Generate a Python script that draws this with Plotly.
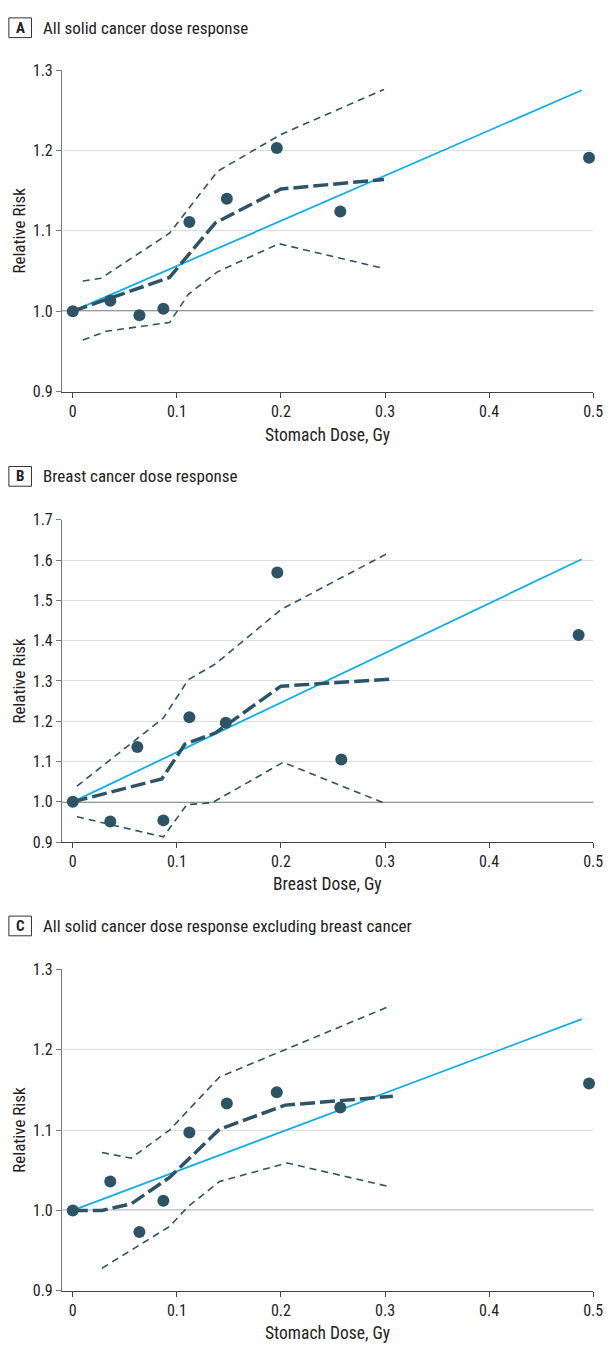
import plotly.graph_objects as go

# ---------------- data ----------------
# Panel A: all solid cancer (stomach dose)
a_pts_x = [0.0, 0.036, 0.064, 0.087, 0.112, 0.148, 0.196, 0.257, 0.496]
a_pts_y = [1.0, 1.013, 0.995, 1.003, 1.111, 1.140, 1.203, 1.124, 1.191]
a_lin_x = [0.0, 0.489]
a_lin_y = [1.0, 1.275]
a_fit_x = [0.0, 0.0929, 0.137, 0.2, 0.299]
a_fit_y = [1.0, 1.042, 1.110, 1.152, 1.164]
a_up_x = [0.0096, 0.027, 0.0929, 0.139, 0.2, 0.299]
a_up_y = [1.0376, 1.041, 1.097, 1.174, 1.220, 1.276]
a_lo_x = [0.0096, 0.032, 0.093, 0.111, 0.139, 0.198, 0.296]
a_lo_y = [0.964, 0.975, 0.986, 1.021, 1.049, 1.084, 1.054]

# Panel B: breast cancer (breast dose)
b_pts_x = [0.0, 0.036, 0.062, 0.087, 0.112, 0.147, 0.1965, 0.258, 0.486]
b_pts_y = [1.0, 0.951, 1.136, 0.954, 1.210, 1.196, 1.569, 1.105, 1.414]
b_lin_x = [0.0, 0.489]
b_lin_y = [1.0, 1.602]
b_fit_x = [0.0, 0.0855, 0.1077, 0.137, 0.2, 0.304]
b_fit_y = [1.0, 1.057, 1.143, 1.171, 1.287, 1.304]
b_up_x = [0.004, 0.087, 0.111, 0.137, 0.2, 0.302]
b_up_y = [1.039, 1.208, 1.303, 1.342, 1.477, 1.616]
b_lo_x = [0.004, 0.087, 0.1095, 0.134, 0.202, 0.302]
b_lo_y = [0.963, 0.913, 0.993, 0.998, 1.098, 0.994]

# Panel C: all solid cancer excluding breast (stomach dose)
c_pts_x = [0.0, 0.036, 0.064, 0.087, 0.112, 0.148, 0.196, 0.257, 0.496]
c_pts_y = [1.0, 1.036, 0.973, 1.012, 1.097, 1.133, 1.147, 1.128, 1.158]
c_lin_x = [0.0, 0.489]
c_lin_y = [1.0, 1.238]
c_fit_x = [0.0, 0.028, 0.056, 0.093, 0.141, 0.204, 0.3075]
c_fit_y = [1.0, 1.0, 1.008, 1.041, 1.101, 1.131, 1.142]
c_up_x = [0.028, 0.056, 0.093, 0.141, 0.204, 0.306]
c_up_y = [1.072, 1.065, 1.100, 1.166, 1.200, 1.255]
c_lo_x = [0.028, 0.093, 0.111, 0.141, 0.206, 0.306]
c_lo_y = [0.928, 0.980, 1.005, 1.036, 1.059, 1.029]

x_ticks = [0, 0.1, 0.2, 0.3, 0.4, 0.5]
x_tick_text = ["0", "0.1", "0.2", "0.3", "0.4", "0.5"]
ya_ticks = [0.9, 1.0, 1.1, 1.2, 1.3]
yb_ticks = [0.9, 1.0, 1.1, 1.2, 1.3, 1.4, 1.5, 1.6, 1.7]
yc_ticks = [0.9, 1.0, 1.1, 1.2, 1.3]

panel_letters = ["A", "B", "C"]
panel_titles = ["All solid cancer dose response",
                "Breast cancer dose response",
                "All solid cancer dose response excluding breast cancer"]
x_titles = ["Stomach Dose, Gy", "Breast Dose, Gy", "Stomach Dose, Gy"]
y_title = "Relative Risk"

# ---------------- style ----------------
W, H = 615, 1353
DARK = "#2c5466"
BLUE = "#10aee6"
FONT = "Roboto Condensed, Liberation Sans Narrow, Roboto, sans-serif"
TXT = "#222"

def py(px):
    return 1 - px / H

x_dom = [63 / W, 603 / W]
panels = [
    dict(top=62, bot=388, rng=[0.9, 1.3], ticks=ya_ticks, title_y=19, xt_y=432,
         data=(a_pts_x, a_pts_y, a_lin_x, a_lin_y, a_fit_x, a_fit_y, a_up_x, a_up_y, a_lo_x, a_lo_y)),
    dict(top=518, bot=845, rng=[0.9, 1.7], ticks=yb_ticks, title_y=474, xt_y=887,
         data=(b_pts_x, b_pts_y, b_lin_x, b_lin_y, b_fit_x, b_fit_y, b_up_x, b_up_y, b_lo_x, b_lo_y)),
    dict(top=974, bot=1300, rng=[0.9, 1.3], ticks=yc_ticks, title_y=930, xt_y=1343,
         data=(c_pts_x, c_pts_y, c_lin_x, c_lin_y, c_fit_x, c_fit_y, c_up_x, c_up_y, c_lo_x, c_lo_y)),
]

fig = go.Figure()
annotations = []
shapes = []
layout_axes = {}
for i, p in enumerate(panels):
    n = "" if i == 0 else str(i + 1)
    xa, ya = "x" + n, "y" + n
    (ptx, pty, lx, ly, fx, fy, ux, uy, lox, loy) = p["data"]
    common = dict(xaxis=xa, yaxis=ya, showlegend=False, hoverinfo="skip", cliponaxis=False)
    fig.add_trace(go.Scatter(x=ux, y=uy, mode="lines",
                             line=dict(color=DARK, width=1.6, dash="7px,5px"), **common))
    fig.add_trace(go.Scatter(x=lox, y=loy, mode="lines",
                             line=dict(color=DARK, width=1.6, dash="7px,5px"), **common))
    fig.add_trace(go.Scatter(x=lx, y=ly, mode="lines",
                             line=dict(color=BLUE, width=1.8), **common))
    fig.add_trace(go.Scatter(x=fx, y=fy, mode="lines",
                             line=dict(color=DARK, width=3.5, dash="15px,5px"), **common))
    fig.add_trace(go.Scatter(x=ptx, y=pty, mode="markers",
                             marker=dict(color=DARK, size=12, line=dict(width=0)), **common))

    dom_y = [py(p["bot"]), py(p["top"])]
    layout_axes["xaxis" + n] = dict(
        domain=x_dom, range=[-0.0104, 0.5], anchor=ya, tickvals=x_ticks, ticktext=x_tick_text,
        showgrid=False, zeroline=False, showline=True, linecolor="#444", linewidth=1,
        ticks="outside", ticklen=5, tickcolor="#444",
        tickfont=dict(family=FONT, size=16, color=TXT), fixedrange=True)
    layout_axes["yaxis" + n] = dict(
        domain=dom_y, range=p["rng"], anchor=xa, tickvals=p["ticks"],
        ticktext=[f"{t:.1f}" for t in p["ticks"]],
        showgrid=True, gridcolor="#dcdcdc", gridwidth=1, zeroline=False,
        showline=True, linecolor="#777", linewidth=1,
        ticks="outside", ticklen=5, tickcolor="#777",
        tickfont=dict(family=FONT, size=16, color=TXT), fixedrange=True)
    annotations.append(dict(text=y_title, xref="paper", yref="paper", textangle=-90,
                            x=19 / W, y=(dom_y[0] + dom_y[1]) / 2, xanchor="center", yanchor="middle",
                            showarrow=False, font=dict(family=FONT, size=17, color=TXT)))
    # reference line at RR = 1.0
    shapes.append(dict(type="line", xref=xa + " domain", yref=ya, x0=0, x1=1, y0=1.0, y1=1.0,
                       line=dict(color="#333", width=1.3), layer="below"))
    # panel label box and title
    shapes.append(dict(type="rect", xref="paper", yref="paper",
                       x0=9 / W, x1=32 / W, y0=py(p["title_y"] + 10), y1=py(p["title_y"] - 10),
                       line=dict(color="#333", width=1), fillcolor="rgba(0,0,0,0)"))
    annotations.append(dict(text="<b>" + panel_letters[i] + "</b>", xref="paper", yref="paper",
                            x=20.5 / W, y=py(p["title_y"]), xanchor="center", yanchor="middle",
                            showarrow=False, font=dict(family=FONT, size=15, color=TXT)))
    annotations.append(dict(text=panel_titles[i], xref="paper", yref="paper",
                            x=42 / W, y=py(p["title_y"]), xanchor="left", yanchor="middle",
                            showarrow=False, font=dict(family=FONT, size=17, color=TXT)))
    annotations.append(dict(text=x_titles[i], xref="paper", yref="paper",
                            x=(63 + 603) / 2 / W, y=py(p["xt_y"]), xanchor="center", yanchor="middle",
                            showarrow=False, font=dict(family=FONT, size=17.5, color=TXT)))

fig.update_layout(width=W, height=H, margin=dict(l=0, r=0, t=0, b=0),
                  plot_bgcolor="white", paper_bgcolor="white",
                  annotations=annotations, shapes=shapes, **layout_axes)

fig.write_html(
    "out.html",
    config={"displayModeBar": False},
    post_script=("document.documentElement.style.margin='0';"
                 "document.body.style.margin='0';document.body.style.overflow='hidden';"
                 "var gd=document.getElementById('{plot_id}');"
                 "gd.style.position='absolute';gd.style.left='0px';gd.style.top='0px';"),
)
